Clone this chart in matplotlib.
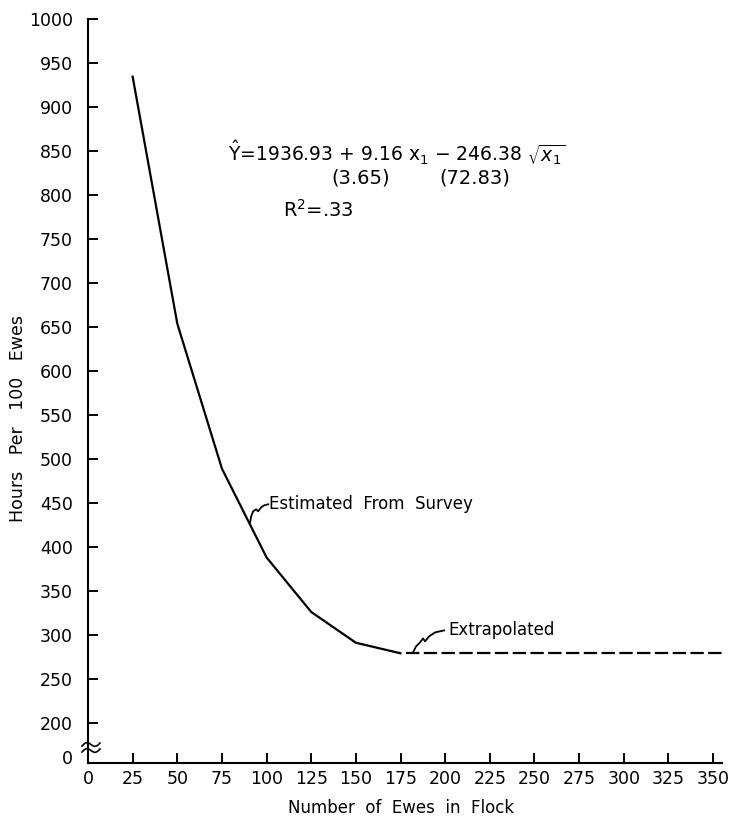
import numpy as np
import matplotlib
matplotlib.use("Agg")
import matplotlib.pyplot as plt

# values
survey_x = [25, 50, 75, 100, 125, 150, 175]
survey_y = [935, 654, 489, 388, 326, 291, 279]
extrap_x = [178, 355]
extrap_y = [279, 279]

x_ticks = list(range(0, 351, 25))
y_ticks = list(range(200, 1001, 50))
y_zero_pos = 161  # where the "0" label sits below the axis break

plt.rcParams['font.family'] = ['DejaVu Sans']

fig = plt.figure(figsize=(7.32, 8.25), dpi=100)
ax = fig.add_axes([88 / 732, 62 / 825, 634 / 732, 743.5 / 825])

ax.plot(survey_x, survey_y, color='black', lw=1.6, solid_joinstyle='miter')
ax.plot(extrap_x, extrap_y, color='black', lw=1.6, dashes=(6, 2))

ax.set_xlim(0, 355)
ax.set_ylim(154.2, 1000)
ax.set_xticks(x_ticks)
ax.set_xticklabels([str(v) for v in x_ticks])
ax.set_yticks([y_zero_pos] + y_ticks)
ax.set_yticklabels(['0'] + [str(v) for v in y_ticks])
ax.yaxis.get_major_ticks()[0].tick1line.set_visible(False)

for s in ['top', 'right']:
    ax.spines[s].set_visible(False)
for s in ['left', 'bottom']:
    ax.spines[s].set_linewidth(1.5)
ax.tick_params(axis='both', direction='in', length=7.5, width=1.4, labelsize=12.5)
ax.tick_params(axis='y', pad=11)
ax.tick_params(axis='x', pad=5)

ax.set_ylabel('Hours   Per   100   Ewes', fontsize=12.5)
ax.yaxis.set_label_coords(-0.097, 0.464)
ax.set_xlabel('Number  of  Ewes  in  Flock', fontsize=12)
ax.xaxis.set_label_coords(0.494, -0.049)

# regression equation
ax.text(78.5, 849, r'$\hat{\mathrm{Y}}$=1936.93 + 9.16 x$_1$ $-$ 246.38 $\sqrt{x_1}$',
        fontsize=13.5, va='center', ha='left')
ax.text(136, 820, '(3.65)', fontsize=14, va='center', ha='left')
ax.text(197, 820, '(72.83)', fontsize=14, va='center', ha='left')
ax.text(109, 783, r'R$^2$=.33', fontsize=14, va='center', ha='left')

# squiggly leader lines, offsets in pixels from the point on the curve
def squiggle(x0, y0, offs):
    p = ax.transData.transform((x0, y0))
    pts = np.array(offs, dtype=float) + p
    d = ax.transData.inverted().transform(pts)
    ax.plot(d[:, 0], d[:, 1], color='black', lw=1.3, clip_on=False)

squiggle(90.8, 428, [(0, 0), (1, 6), (3, 11), (6, 13), (8, 11), (11, 15), (14, 17), (18, 18)])
ax.text(101.5, 449, 'Estimated  From  Survey', fontsize=12, va='center', ha='left')

squiggle(182, 280, [(0, 0), (3, 6), (7, 10), (10, 14), (12, 11), (16, 16), (22, 20), (31, 22)])
ax.text(202, 305, 'Extrapolated', fontsize=12, va='center', ha='left')

# axis break marks on the y axis
p0 = ax.transData.transform((0, 154.2))
for dy in (17, 11):
    t = np.linspace(0, 1, 30)
    xs = p0[0] - 6 + 18 * t
    ys = p0[1] + dy + 2.5 * np.sin(t * 2 * np.pi) + 3 * t
    d = ax.transData.inverted().transform(np.column_stack([xs, ys]))
    ax.plot(d[:, 0], d[:, 1], color='black', lw=1.2, clip_on=False)

fig.savefig('out.png', dpi=100)
